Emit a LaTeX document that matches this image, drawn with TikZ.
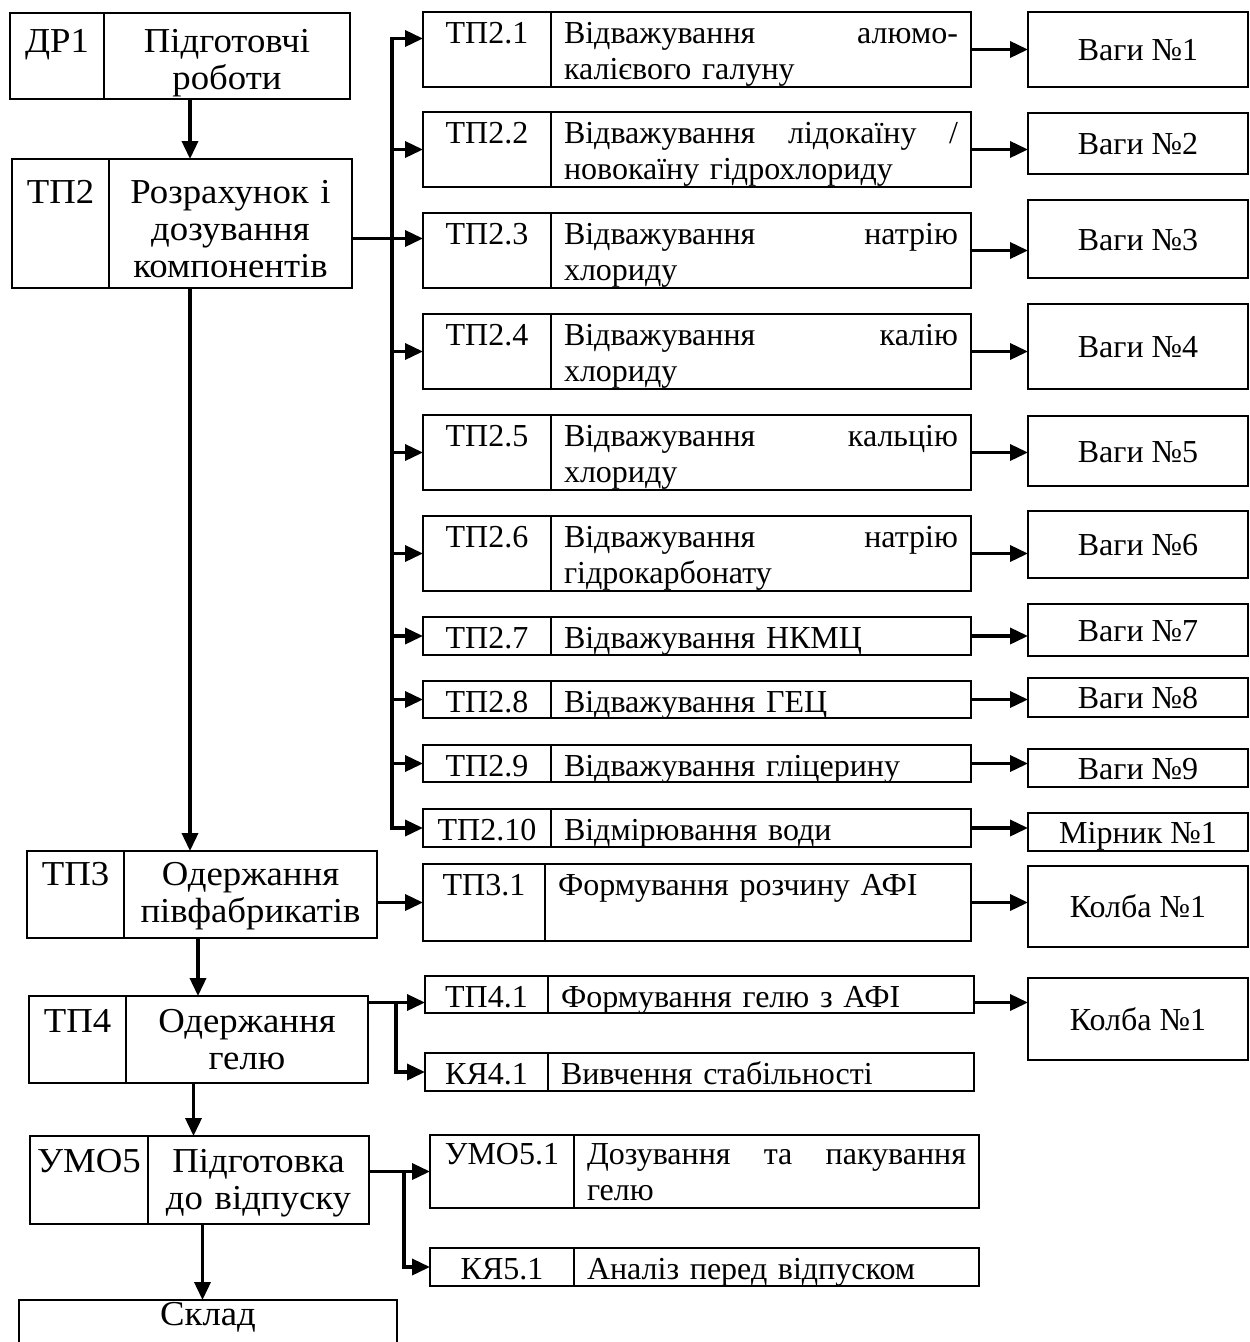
\documentclass[tikz,border=0pt]{standalone}
\usepackage{fontspec}
\setmainfont{Liberation Serif}
\newfontfamily\widefont[FakeStretch=1.05]{Liberation Serif}
\usepackage{tikz}
\usetikzlibrary{positioning}
\usetikzlibrary{calc,fit}
\usetikzlibrary{arrows.meta}
\tikzset{>={Triangle[length=18pt,width=16pt]}}
\tikzset{
  frame/.style={draw, line width=2.4pt, inner sep=0pt, outer sep=0pt},
  flow/.style={->, line width=3.6pt},
  maintext/.style={font=\widefont\fontsize{35}{37}\selectfont, align=center},
  subtext/.style={font=\fontsize{32}{36}\selectfont, align=left, text height=31pt},
  tooltext/.style={font=\fontsize{32}{36}\selectfont, inner sep=0pt, text height=22pt, text depth=0pt},
}

% box split into a code cell and a text cell
% #1 text style, #2 name, #3 left, #4 top, #5 divider, #6 right, #7 bottom, #8 code, #9 text
\newcommand{\stagebox}[9][]{%
  \node[frame, fit={(#3,#4) (#6,#7)}] (#2) {};
  \draw[line width=2.4pt] (#5,#4) -- (#5,#7);
  \pgfmathsetmacro{\cellw}{#6-#5-26}
  \node[anchor=north, inner sep=0pt, #1] (#2-code) at ({(#3+#5)/2},#4) {#8};
  \node[anchor=north, inner sep=0pt, text width=\cellw pt, #1] (#2-text) at ({(#5+#6)/2},#4) {#9};
}

\begin{document}
\begin{tikzpicture}[x=1pt, y=-1pt]
\useasboundingbox (0,0) rectangle (1250,1342);
\clip (0,0) rectangle (1250,1342);

% Main stages
\stagebox[maintext, text height=39pt]{dr1}{10}{13}{104}{350}{99}{ДР1}{Підготовчі\\роботи}
\stagebox[maintext, text height=44pt]{tp2}{12}{159}{109}{352}{288}{ТП2}{Розрахунок і\\дозування\\компонентів}
\stagebox[maintext, text height=34pt]{tp3}{27}{851}{124}{377}{938}{ТП3}{Одержання\\півфабрикатів}
\stagebox[maintext, text height=36pt]{tp4}{29}{996}{126}{368}{1083}{ТП4}{Одержання\\гелю}
\stagebox[maintext, text height=36pt]{umo5}{30}{1136}{148}{369}{1224}{УМО5}{Підготовка\\до відпуску}
\node[frame, fit={(19,1300) (397,1380)}] (sklad) {};
\node[maintext, anchor=north, inner sep=0pt, text height=25pt] (sklad-text) at (sklad.north) {Склад};

% Weighing steps of TP2
\foreach \idx/\ytop/\ybot/\desc in {
  1/12/87/{Відважування\hfill алюмо-\\калієвого галуну},
  2/112/187/{Відважування\hfill лідокаїну\hfill /\\новокаїну гідрохлориду},
  3/213/288/{Відважування\hfill натрію\\хлориду},
  4/314/389/{Відважування\hfill калію\\хлориду},
  5/415/490/{Відважування\hfill кальцію\\хлориду},
  6/516/591/{Відважування\hfill натрію\\гідрокарбонату},
  7/617/655/{Відважування НКМЦ},
  8/681/718/{Відважування ГЕЦ},
  9/745/782/{Відважування гліцерину},
  10/809/847/{Відмірювання води}}
  {\stagebox[subtext]{tp2-\idx}{423}{\ytop}{551}{971}{\ybot}{ТП2.\idx}{\desc}}

% Other sub-steps
\stagebox[subtext]{tp3-1}{423}{864}{545}{971}{941}{ТП3.1}{Формування розчину АФІ}
\stagebox[subtext]{tp4-1}{425}{976}{548}{974}{1013}{ТП4.1}{Формування гелю з АФІ}
\stagebox[subtext]{kja4-1}{425}{1053}{548}{974}{1091}{КЯ4.1}{Вивчення стабільності}
\stagebox[subtext, text height=29pt]{umo5-1}{430}{1135}{574}{979}{1208}{УМО5.1}{Дозування\hfill та\hfill пакування\\гелю}
\stagebox[subtext]{kja5-1}{430}{1248}{574}{979}{1286}{КЯ5.1}{Аналіз перед відпуском}

% Equipment
\foreach \idx/\ytop/\ybot/\lab in {1/12/87/Ваги №1, 2/113/174/Ваги №2,
  3/200/278/Ваги №3, 4/304/389/Ваги №4, 5/416/486/Ваги №5, 6/511/578/Ваги №6,
  7/604/656/Ваги №7, 8/678/717/Ваги №8, 9/749/787/Ваги №9, 10/813/851/Мірник №1}
{
  \node[frame, fit={(1028,\ytop) (1248,\ybot)}] (tool\idx) {};
  \node[tooltext] (tool\idx-text) at (tool\idx.center) {\lab};
}
\node[frame, fit={(1028,866) (1248,947)}] (kolba1) {};
\node[tooltext] (kolba1-text) at (kolba1.center) {Колба №1};
\node[frame, fit={(1028,978) (1248,1060)}] (kolba2) {};
\node[tooltext] (kolba2-text) at (kolba2.center) {Колба №1};

% Main flow
\draw[flow] ([xshift=10pt]dr1.south) -- ([xshift=10pt]dr1.south |- tp2.north);
\draw[flow] ([xshift=8pt]tp2.south) -- ([xshift=8pt]tp2.south |- tp3.north);
\draw[flow] ([xshift=-4pt]tp3.south) -- ([xshift=-4pt]tp3.south |- tp4.north);
\draw[flow] ([xshift=-5pt]tp4.south) -- ([xshift=-5pt]tp4.south |- umo5.north);
\draw[flow] ([xshift=3pt]umo5.south) -- ([xshift=3pt]umo5.south |- sklad.north);

% Bus to the weighing steps
\coordinate (bus) at (392,0);
\coordinate (bustop) at ([yshift=11pt]tp2-1.west);
\draw[flow] (bus |- tp2-10.west) |- (bustop);
\draw[flow] (bus |- bustop) |- (tp2-10.west);
\foreach \idx in {2,4,5,6,7,8,9}
  \draw[flow] (bus |- tp2-\idx.west) -- (tp2-\idx.west);
\coordinate (feed2) at ([yshift=12pt]tp2-3.west);
\draw[flow] (feed2 -| tp2.east) -- (feed2);

% Steps to equipment
\foreach \idx in {1,...,10}
  \draw[flow] (tp2-\idx.east) -- (tp2-\idx.east -| tool\idx.west);
\draw[flow] (tp3-1.east) -- (tp3-1.east -| kolba1.west);
\coordinate (split4) at ([yshift=-8pt]tp4-1.east);
\draw[flow] (split4) -- (split4 -| kolba2.west);

% Stages to sub-steps
\draw[flow] (tp3.east |- tp3-1.west) -- (tp3-1.west);
\coordinate (fork4) at (396,0);
\coordinate (join4) at ([yshift=-8pt]tp4-1.west);
\draw[flow] (join4 -| tp4.east) -- (join4);
\draw[flow] (fork4 |- join4) |- (kja4-1.west);
\coordinate (fork5) at (404,0);
\draw[flow] (umo5.east |- umo5-1.west) -- (umo5-1.west);
\draw[flow] (fork5 |- umo5-1.west) |- (kja5-1.west);

\end{tikzpicture}
\end{document}
